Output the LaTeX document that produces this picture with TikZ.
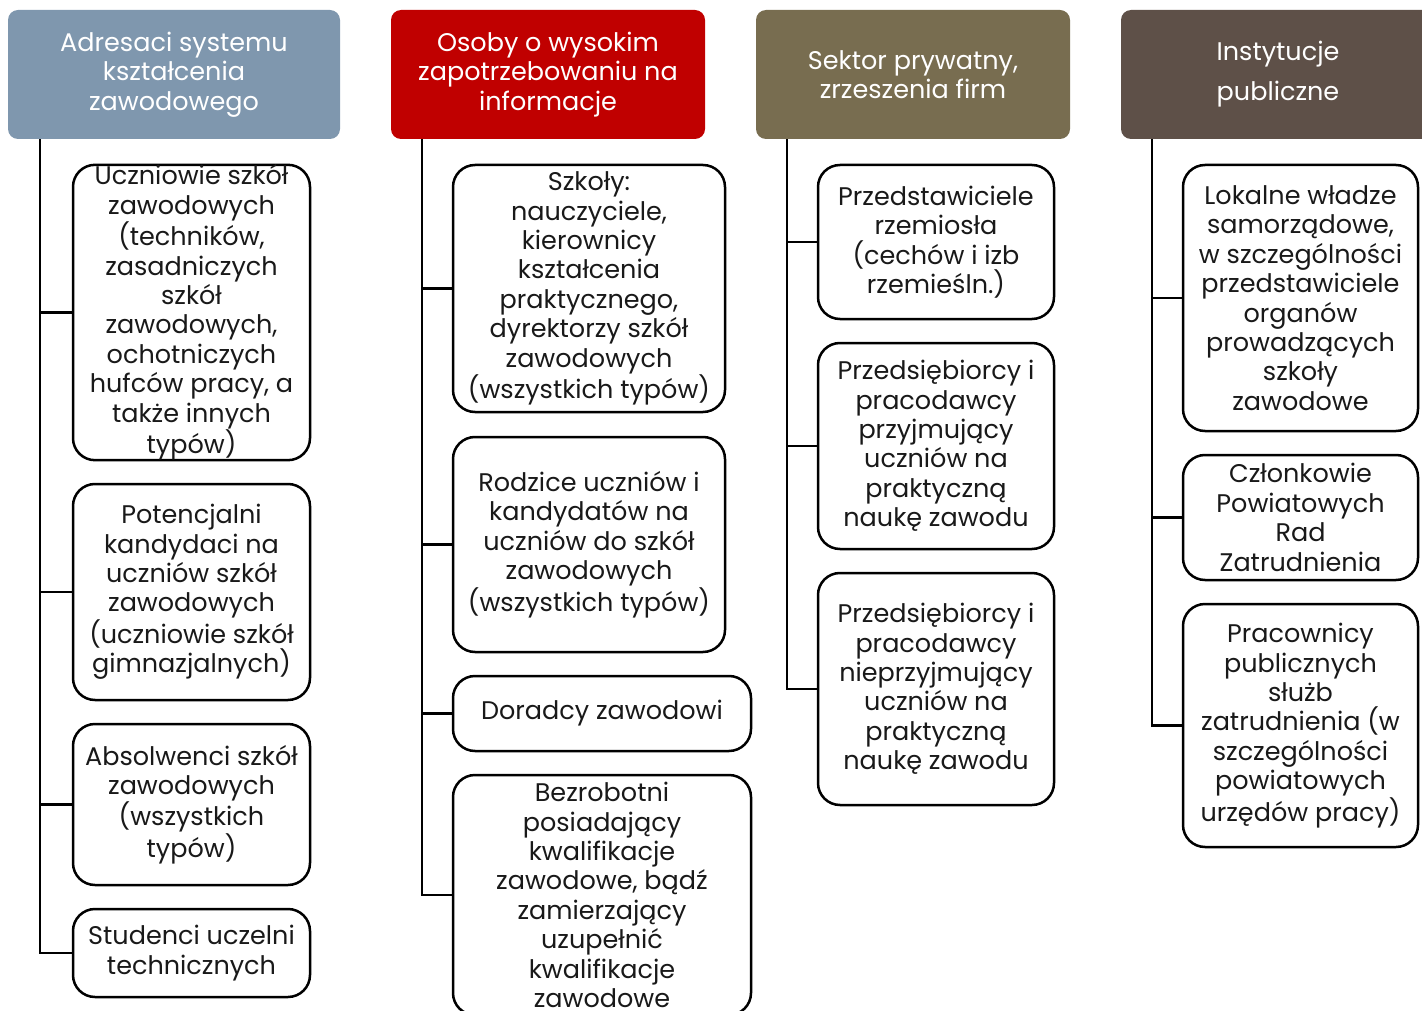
\documentclass[tikz,border=0pt]{standalone}
\usepackage{fontspec}
\setmainfont{Poppins}
\usetikzlibrary{calc}
\definecolor{hA}{RGB}{127,151,174}
\definecolor{hB}{RGB}{192,0,0}
\definecolor{hC}{RGB}{120,109,80}
\definecolor{hD}{RGB}{94,80,72}
\definecolor{txt}{RGB}{25,25,25}
\tikzset{
  hdr/.style={rectangle, rounded corners=10pt, inner sep=0pt, text=white, align=center,
    font=\fontsize{25.5}{29.5}\selectfont},
  child/.style={rectangle, draw=black, line width=2.5pt, rounded corners=22pt, fill=white,
    inner sep=0pt, text=txt, align=center, font=\fontsize{25.5}{29.4}\selectfont},
  conn/.style={draw=black, line width=2.5pt}
}
\begin{document}
\begin{tikzpicture}[x=1pt,y=-1pt]
\useasboundingbox (0,0) rectangle (1422,1011);
% headers
\node[hdr, fill=hA, minimum width=332, minimum height=129] (h1) at (174,74.5) {Adresaci systemu\\kształcenia\\zawodowego};
\node[hdr, fill=hB, minimum width=314, minimum height=129] (h2) at (548,74.5) {Osoby o wysokim\\zapotrzebowaniu na\\informacje};
\node[hdr, fill=hC, minimum width=314, minimum height=129] (h3) at (913,74.5) {Sektor prywatny,\\zrzeszenia firm};
\node[hdr, fill=hD, minimum width=314, minimum height=129, font=\fontsize{25.5}{40}\selectfont] (h4) at (1278,74.5) {Instytucje\\publiczne};
% trunk tops
\coordinate (t1) at ($(h1.south west)+(32,0)$);
\coordinate (t2) at ($(h2.south west)+(31,0)$);
\coordinate (t3) at ($(h3.south west)+(31,0)$);
\coordinate (t4) at ($(h4.south west)+(31,0)$);
% column 1
\node[child, minimum width=237, minimum height=295] (a1) at (191.5,312.5) {Uczniowie szkół\\zawodowych\\(techników,\\zasadniczych\\szkół\\zawodowych,\\ochotniczych\\hufców pracy, a\\także innych\\typów)};
\node[child, minimum width=237, minimum height=216] (a2) at (191.5,592) {Potencjalni\\kandydaci na\\uczniów szkół\\zawodowych\\(uczniowie szkół\\gimnazjalnych)};
\node[child, minimum width=237, minimum height=161] (a3) at (191.5,804.5) {Absolwenci szkół\\zawodowych\\(wszystkich\\typów)};
\node[child, minimum width=237, minimum height=88] (a4) at (191.5,953) {Studenci uczelni\\technicznych};
% column 2
\node[child, minimum width=272, minimum height=247] (b1) at (589,288.5) {Szkoły:\\nauczyciele,\\kierownicy\\kształcenia\\praktycznego,\\dyrektorzy szkół\\zawodowych\\(wszystkich typów)};
\node[child, minimum width=272, minimum height=215] (b2) at (589,544.5) {Rodzice uczniów i\\kandydatów na\\uczniów do szkół\\zawodowych\\(wszystkich typów)};
\node[child, minimum width=298, minimum height=75] (b3) at (602,713.5) {Doradcy zawodowi};
\node[child, minimum width=298, minimum height=240] (b4) at (602,895) {Bezrobotni\\posiadający\\kwalifikacje\\zawodowe, bądź\\zamierzający\\uzupełnić\\kwalifikacje\\zawodowe};
% column 3
\node[child, minimum width=236, minimum height=154] (c1) at (936,242) {Przedstawiciele\\rzemiosła\\(cechów i izb\\rzemieśln.)};
\node[child, minimum width=236, minimum height=206] (c2) at (936,446) {Przedsiębiorcy i\\pracodawcy\\przyjmujący\\uczniów na\\praktyczną\\naukę zawodu};
\node[child, minimum width=236, minimum height=232] (c3) at (936,689) {Przedsiębiorcy i\\pracodawcy\\nieprzyjmujący\\uczniów na\\praktyczną\\naukę zawodu};
% column 4
\node[child, minimum width=235, minimum height=266] (d1) at (1300.5,298) {Lokalne władze\\samorządowe,\\w szczególności\\przedstawiciele\\organów\\prowadzących\\szkoły\\zawodowe};
\node[child, minimum width=235, minimum height=125] (d2) at (1300.5,517.5) {Członkowie\\Powiatowych\\Rad\\Zatrudnienia};
\node[child, minimum width=235, minimum height=243] (d3) at (1300.5,725.5) {Pracownicy\\publicznych\\służb\\zatrudnienia (w\\szczególności\\powiatowych\\urzędów pracy)};
% connectors
\foreach \t/\c in {t1/a1,t1/a2,t1/a3,t1/a4,t2/b1,t2/b2,t2/b3,t2/b4,t3/c1,t3/c2,t3/c3,t4/d1,t4/d2,t4/d3}
  \draw[conn] (\t) |- (\c.west);
\end{tikzpicture}
\end{document}
